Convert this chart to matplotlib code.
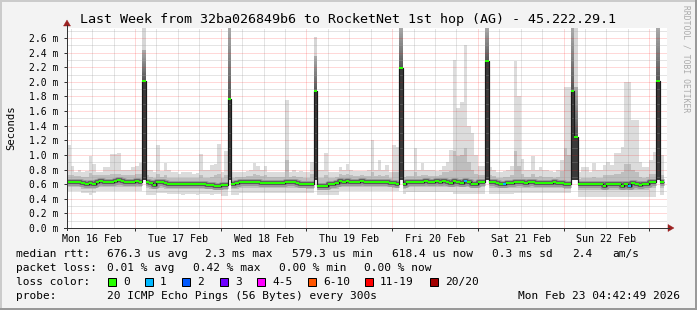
import numpy as np
import matplotlib
matplotlib.use("Agg")
import matplotlib.pyplot as plt
from matplotlib.patches import Rectangle, Polygon
from matplotlib.lines import Line2D
from matplotlib.colors import to_rgb

nan = np.nan

# ---------------------------------------------------------------- data
title = "Last Week from 32ba026849b6 to RocketNet 1st hop (AG) - 45.222.29.1"
y_title = "Seconds"
watermark = "RRDTOOL / TOBI OETIKER"
day_labels = ["Mon 16 Feb", "Tue 17 Feb", "Wed 18 Feb", "Thu 19 Feb",
              "Fri 20 Feb", "Sat 21 Feb", "Sun 22 Feb"]
day_label_hours = [12, 36, 60, 84, 108, 132, 156]      # hours since Mon 16 Feb 00:00
ytick_values = [0.0, 0.2, 0.4, 0.6, 0.8, 1.0, 1.2, 1.4, 1.6, 1.8, 2.0, 2.2, 2.4, 2.6]
ytick_labels = ["0.0 m", "0.2 m", "0.4 m", "0.6 m", "0.8 m", "1.0 m", "1.2 m",
                "1.4 m", "1.6 m", "1.8 m", "2.0 m", "2.2 m", "2.4 m", "2.6 m"]
x_start, x_end = 4.96, 172.96
y_top = 2.737

# hourly bins, start hour since Mon 16 Feb 00:00 (bins 4 .. 171)
bin_start_hours = list(range(4, 172))

median_ms = [
    0.625, 0.625, 0.625, 0.625, 0.625, 0.611, 0.598, 0.611, 0.598, 0.634,
    0.639, 0.634, 0.625, 0.625, 0.643, 0.652, 0.648, 0.634, 0.630, 0.630,
    0.643, 0.625, 2.015, 0.625, 0.611, 0.584, 0.625, 0.625, 0.611, 0.598, 0.598, 0.598,
    0.598, 0.598, 0.598, 0.598, 0.598, 0.605, 0.605, 0.605, 0.590, 0.590, 0.580, 0.580,
    0.584, 0.584, 1.760, 0.605, 0.611, 0.625, 0.625, 0.634, 0.634, 0.634, 0.634, 0.620,
    0.611, 0.611, 0.611, 0.616, 0.616, 0.620, 0.630, 0.630, 0.630, 0.620, 0.607, 0.607,
    0.607, 0.600, 1.870, 0.579, 0.579, 0.579, 0.598, 0.598, 0.611, 0.643, 0.630, 0.648,
    0.634, 0.634, 0.634, 0.648, 0.634, 0.634, 0.634, 0.634, 0.634, 0.625, 0.625, 0.611,
    0.611, 0.607, 2.190, 0.600, 0.630, 0.630, 0.630, 0.630, 0.630, 0.643, 0.630, 0.625,
    0.638, 0.634, 0.648, 0.630, 0.620, 0.643, 0.630, 0.616, 0.648, 0.625, 0.607, 0.607,
    0.630, 0.630, 2.280, 0.630, 0.630, 0.620, 0.607, 0.598, 0.611, 0.611, 0.630, 0.630,
    0.630, 0.616, 0.625, 0.625, 0.620, 0.620, 0.611, 0.611, 0.620, 0.630, 0.611, 0.611,
    0.598, 0.598, 1.880, 1.250, 0.598, 0.598, 0.598, 0.598, 0.598, 0.598, 0.598, 0.575,
    0.598, 0.598, 0.598, 0.598, 0.575, 0.598, 0.575, 0.611, 0.598, 0.589, 0.598, 0.598,
    0.625, 0.625, 2.010, 0.625,
]

smoke_max_ms = [
    1.13, 1.13, 0.85, 0.76, 0.79, 0.76, 0.78, 0.99, 0.87, 0.77,
    0.77, 0.83, 0.83, 1.01, 1.01, 1.02, 0.79, 0.80, 0.80, 0.83,
    0.85, 0.89, nan, 0.80, 0.79, 0.77, 1.13, 0.78, 0.89, 0.80, 0.76, 0.76,
    0.74, 0.76, 0.76, 0.77, 0.74, 0.75, 1.01, 0.80, 0.79, 0.86, 0.88, 1.15,
    0.76, 1.05, nan, 0.76, 0.77, 0.76, 0.77, 0.78, 0.80, 0.89, 0.85, 0.80,
    0.85, 0.77, 0.76, 0.76, 0.77, 0.77, 1.75, 0.76, 0.80, 0.76, 0.78, 0.76,
    0.76, 0.91, nan, 0.80, 0.80, 1.02, 0.76, 0.77, 0.77, 0.84, 0.80, 0.87,
    0.80, 0.78, 0.78, 0.78, 0.78, 0.79, 1.20, 0.79, 0.93, 0.79, 0.86, 0.76,
    1.14, 1.11, nan, 0.80, 0.79, 0.79, 1.10, 0.79, 0.89, 0.80, 0.80, 0.79,
    0.78, 0.80, 0.85, 0.91, 1.07, 2.30, 1.64, 1.73, 2.50, 1.40, 1.30, 1.00,
    0.85, 0.85, nan, 0.84, 0.80, 0.76, 0.77, 0.78, 0.79, 0.85, 2.28, 1.80,
    0.95, 0.79, 0.79, 0.98, 0.80, 0.83, 0.80, 0.80, 0.78, 0.77, 0.79, 0.93,
    1.93, 1.93, nan, nan, 0.76, 0.84, 0.84, 0.77, 0.89, 0.79, 0.79, 0.86,
    0.91, 0.86, 1.03, 1.03, 1.11, 2.00, 2.00, 1.48, 1.48, 0.91, 0.84, 0.84,
    0.93, 1.04, nan, 1.00,
]

smoke_min_ms = [
    0.50, 0.50, 0.50, 0.50, 0.50, 0.48, 0.48, 0.45, 0.48, 0.51,
    0.51, 0.51, 0.51, 0.51, 0.51, 0.51, 0.51, 0.51, 0.51, 0.51,
    0.51, 0.51, nan, 0.45, 0.45, 0.45, 0.48, 0.48, 0.48, 0.46, 0.46, 0.46,
    0.46, 0.45, 0.46, 0.46, 0.46, 0.45, 0.46, 0.46, 0.46, 0.45, 0.46, 0.46,
    0.44, 0.44, nan, 0.45, 0.45, 0.48, 0.48, 0.48, 0.48, 0.48, 0.48, 0.48,
    0.48, 0.48, 0.48, 0.48, 0.48, 0.48, 0.48, 0.48, 0.48, 0.48, 0.48, 0.48,
    0.48, 0.48, nan, 0.45, 0.45, 0.45, 0.45, 0.45, 0.45, 0.50, 0.50, 0.50,
    0.50, 0.50, 0.50, 0.50, 0.50, 0.50, 0.50, 0.50, 0.50, 0.50, 0.50, 0.50,
    0.50, 0.50, nan, 0.47, 0.49, 0.49, 0.49, 0.49, 0.49, 0.49, 0.49, 0.49,
    0.49, 0.49, 0.49, 0.49, 0.49, 0.47, 0.47, 0.47, 0.47, 0.47, 0.47, 0.47,
    0.47, 0.47, nan, 0.46, 0.46, 0.46, 0.46, 0.46, 0.46, 0.46, 0.48, 0.48,
    0.48, 0.48, 0.48, 0.48, 0.48, 0.48, 0.48, 0.48, 0.48, 0.48, 0.48, 0.48,
    0.48, 0.48, nan, nan, 0.43, 0.43, 0.43, 0.43, 0.43, 0.43, 0.43, 0.43,
    0.43, 0.43, 0.43, 0.43, 0.43, 0.43, 0.43, 0.43, 0.43, 0.43, 0.43, 0.43,
    0.43, 0.43, nan, 0.45,
]

band_lo_ms = [
    0.56, 0.56, 0.56, 0.56, 0.56, 0.54, 0.54, 0.54, 0.54, 0.56,
    0.56, 0.56, 0.56, 0.56, 0.56, 0.56, 0.56, 0.56, 0.56, 0.56,
    0.56, 0.56, nan, 0.55, 0.54, 0.53, 0.55, 0.55, 0.54, 0.53, 0.53, 0.53,
    0.53, 0.53, 0.53, 0.53, 0.53, 0.53, 0.53, 0.53, 0.53, 0.53, 0.53, 0.53,
    0.52, 0.52, nan, 0.54, 0.54, 0.55, 0.55, 0.55, 0.55, 0.55, 0.55, 0.55,
    0.55, 0.55, 0.55, 0.55, 0.55, 0.55, 0.55, 0.55, 0.55, 0.55, 0.55, 0.55,
    0.54, 0.54, nan, 0.52, 0.52, 0.52, 0.53, 0.53, 0.54, 0.56, 0.56, 0.56,
    0.56, 0.56, 0.56, 0.56, 0.56, 0.56, 0.56, 0.56, 0.56, 0.56, 0.56, 0.56,
    0.55, 0.55, nan, 0.54, 0.56, 0.56, 0.56, 0.56, 0.56, 0.56, 0.56, 0.56,
    0.56, 0.56, 0.56, 0.56, 0.56, 0.56, 0.56, 0.56, 0.56, 0.56, 0.56, 0.56,
    0.56, 0.56, nan, 0.55, 0.55, 0.55, 0.55, 0.55, 0.55, 0.55, 0.55, 0.55,
    0.55, 0.55, 0.55, 0.55, 0.55, 0.55, 0.55, 0.55, 0.55, 0.55, 0.55, 0.55,
    0.53, 0.53, nan, nan, 0.52, 0.52, 0.52, 0.52, 0.52, 0.52, 0.52, 0.52,
    0.52, 0.52, 0.52, 0.52, 0.52, 0.52, 0.52, 0.52, 0.52, 0.52, 0.52, 0.52,
    0.55, 0.55, nan, 0.55,
]

band_hi_ms = [
    0.72, 0.72, 0.72, 0.71, 0.71, 0.70, 0.70, 0.75, 0.72, 0.72,
    0.72, 0.73, 0.73, 0.74, 0.74, 0.74, 0.72, 0.72, 0.72, 0.73,
    0.74, 0.74, nan, 0.72, 0.70, 0.69, 0.74, 0.70, 0.72, 0.69, 0.68, 0.68,
    0.68, 0.68, 0.68, 0.69, 0.68, 0.68, 0.72, 0.69, 0.68, 0.70, 0.72, 0.74,
    0.68, 0.72, nan, 0.69, 0.70, 0.70, 0.70, 0.71, 0.71, 0.74, 0.73, 0.71,
    0.72, 0.70, 0.70, 0.70, 0.70, 0.70, 0.93, 0.70, 0.71, 0.70, 0.70, 0.69,
    0.69, 0.74, nan, 0.68, 0.68, 0.72, 0.68, 0.69, 0.70, 0.74, 0.72, 0.74,
    0.72, 0.71, 0.71, 0.72, 0.71, 0.71, 0.76, 0.71, 0.73, 0.71, 0.72, 0.69,
    0.76, 0.76, nan, 0.70, 0.71, 0.71, 0.76, 0.71, 0.73, 0.72, 0.71, 0.71,
    0.71, 0.72, 0.76, 0.76, 0.78, 1.05, 0.98, 1.00, 1.10, 0.90, 0.80, 0.74,
    0.72, 0.72, nan, 0.72, 0.71, 0.69, 0.69, 0.70, 0.70, 0.72, 1.05, 0.85,
    0.74, 0.70, 0.70, 0.74, 0.70, 0.71, 0.70, 0.70, 0.70, 0.69, 0.70, 0.78,
    1.10, 1.00, nan, nan, 0.67, 0.69, 0.69, 0.68, 0.70, 0.68, 0.68, 0.72,
    0.73, 0.72, 0.74, 0.74, 0.76, 0.88, 0.88, 0.80, 0.76, 0.70, 0.68, 0.70,
    0.74, 0.74, nan, 0.72,
]

# hours with lost pings (count of 20)
loss_hours = [116, 127, 162]
loss_pings = [1, 1, 1]

# high-latency hours (smoke column drawn separately)
spike_hours = [26, 50, 74, 98, 122, 146, 147, 170]
spike_floor_ms = [0.66, 0.66, 0.66, 0.66, 0.66, 0.66, 0.66, 0.66]
spike_mid_ms = [2.43, 2.74, 2.35, 2.74, 2.74, 2.74, 1.93, 2.74]
spike_top_ms = [2.74, 2.74, 2.61, 2.74, 2.74, 2.74, 2.74, 2.74]

# legend texts
rtt_label = "median rtt:"
rtt_stats = ["676.3 us avg", "2.3 ms max", "579.3 us min", "618.4 us now", "0.3 ms sd", "2.4", "am/s"]
loss_label = "packet loss:"
loss_stats = ["0.01 % avg", "0.42 % max", "0.00 % min", "0.00 % now"]
color_label = "loss color:"
loss_names = ["0", "1", "2", "3", "4-5", "6-10", "11-19", "20/20"]
loss_colors = ["#26ff00", "#00b8ff", "#0059ff", "#6f00ff", "#ff00ff", "#ff5500", "#ff0000", "#a10000"]
loss_upper = [0, 1, 2, 3, 5, 10, 19, 20]
probe_label = "probe:"
probe_text = "20 ICMP Echo Pings (56 Bytes) every 300s"
stamp_text = "Mon Feb 23 04:42:49 2026"

# ---------------------------------------------------------------- figure
W, H, DPI = 697, 310, 100
PX = 72.0 / DPI
plt.rcParams["font.family"] = ["DejaVu Sans Mono", "DejaVu Sans"]
fig = plt.figure(figsize=(W / DPI, H / DPI), dpi=DPI)
fig.patch.set_facecolor("#f3f3f3")

def fx(x):
    return x / W

def fy(y):
    return 1 - y / H

L, R, T, B = 67, 667, 28, 228
ax = fig.add_axes([L / W, 1 - B / H, (R - L) / W, (B - T) / H])
ax.set_facecolor("white")
for s in ax.spines.values():
    s.set_visible(False)

hrs = np.array(bin_start_hours, float)
edges = np.append(hrs, hrs[-1] + 1)
xs = np.column_stack([edges[:-1], edges[1:]]).ravel()

def rep(a):
    return np.repeat(np.asarray(a, float), 2)

# smoke
ax.fill_between(xs, rep(smoke_min_ms), rep(smoke_max_ms), color="#dcdcdc", lw=0, zorder=1)
ax.fill_between(xs, rep(band_lo_ms), rep(band_hi_ms), color="#bebebe", lw=0, zorder=1.2)

med = np.array(median_ms, float)
c0 = np.array(to_rgb("#555555"))
c1 = np.array(to_rgb("#aaaaaa"))
for h, fl, mid, top in zip(spike_hours, spike_floor_ms, spike_mid_ms, spike_top_ms):
    m = med[bin_start_hours.index(h)]
    if top > mid:
        ax.add_patch(Rectangle((h, mid), 1, top - mid, facecolor="#d6d6d6", lw=0, zorder=1.3))
    n = 24
    ys = np.linspace(m, mid, n + 1)
    for k in range(n):
        c = c0 + (c1 - c0) * (k + 0.5) / n
        ax.add_patch(Rectangle((h, ys[k]), 1, mid - ys[k], facecolor=c, lw=0, zorder=1.3))
    ax.add_patch(Rectangle((h, fl), 1, m - fl, facecolor="#3a3a3a", lw=0, zorder=1.4))

# grid (dotted, on top of smoke)
MG = (1, 0, 0, 0.30)
mg = (0.62, 0.62, 0.62, 0.55)
for h in range(6, 173, 6):
    if x_start < h < x_end:
        ax.axvline(h, color=MG if h % 24 == 0 else mg, lw=PX, ls=(0, (1, 1)), zorder=2)
for k in range(1, 28):
    ax.axhline(k / 10.0, color=MG if k % 2 == 0 else mg, lw=PX, ls=(0, (1, 1)), zorder=2)

# median
spike_idx = [bin_start_hours.index(h) for h in spike_hours]
med_core = med.copy()
med_core[spike_idx] = nan
ax.plot(xs, rep(med_core), color="#9a9a9a", lw=7 * PX, solid_capstyle="butt", zorder=3)
ax.plot(xs, rep(med_core), color="#606060", lw=4 * PX, solid_capstyle="butt", zorder=3.1)
ax.plot(xs, rep(med), color="#1a1a1a", lw=1.2 * PX, solid_capstyle="butt", zorder=3.2)

loss = np.zeros(len(hrs))
for h, p in zip(loss_hours, loss_pings):
    loss[bin_start_hours.index(h)] = p

def loss_color(p):
    for up, c in zip(loss_upper, loss_colors):
        if p <= up:
            return c
    return loss_colors[-1]

seg_colors = [loss_color(p) for p in loss]
ax.hlines(med, edges[:-1], edges[1:], colors=seg_colors, lw=2 * PX, capstyle="butt", zorder=4)

ax.set_xlim(x_start, x_end)
ax.set_ylim(0, y_top)

# ticks
ax.set_yticks(ytick_values, ytick_labels)
ax.set_xticks(day_label_hours, day_labels)
ax.set_xticks([h for h in range(24, 169, 24)], minor=True)
ax.xaxis.remove_overlapping_locs = False
ax.tick_params(axis="x", which="major", length=0, pad=4.2, labelsize=7.2, colors="#000000")
ax.tick_params(axis="x", which="minor", length=2.5, width=PX, color="#333333", direction="out")
ax.tick_params(axis="y", which="major", length=2.5, width=PX, color="#333333", direction="out",
               pad=3.5, labelsize=7.0)

# axes lines and arrows
axis_c = "#333333"
arrow_c = "#9b2020"
fig.add_artist(Line2D([fx(67), fx(67)], [fy(230), fy(25)], color=axis_c, lw=PX))
fig.add_artist(Line2D([fx(64), fx(669)], [fy(228), fy(228)], color=axis_c, lw=PX))
fig.add_artist(Polygon([(fx(63.5), fy(26)), (fx(70.5), fy(26)), (fx(67), fy(20))],
                       closed=True, facecolor=arrow_c, edgecolor=arrow_c, lw=0.3))
fig.add_artist(Polygon([(fx(668), fy(224.5)), (fx(668), fy(231.5)), (fx(674), fy(228))],
                       closed=True, facecolor=arrow_c, edgecolor=arrow_c, lw=0.3))

# titles
fig.text(fx(347.5), fy(19), title, ha="center", va="center", fontsize=9.6, color="#000000")
fig.text(fx(11), fy(128), y_title, ha="center", va="center", rotation=90, fontsize=7.6)
fig.text(fx(686), fy(5), watermark, ha="center", va="top", rotation=270, fontsize=5.8,
         color="#aaaaaa")

# legend
LF = 8.0
rows = [254, 268, 282, 296]
fig.text(fx(16), fy(rows[0]), rtt_label, ha="left", va="center", fontsize=LF)
for s, x in zip(rtt_stats, [107, 205, 292, 392, 492, 572, 612]):
    fig.text(fx(x), fy(rows[0]), s, ha="left", va="center", fontsize=LF)
fig.text(fx(16), fy(rows[1]), loss_label, ha="left", va="center", fontsize=LF)
for s, x in zip(loss_stats, [107, 193, 279, 364]):
    fig.text(fx(x), fy(rows[1]), s, ha="left", va="center", fontsize=LF)
fig.text(fx(16), fy(rows[2]), color_label, ha="left", va="center", fontsize=LF)
for name, col, x in zip(loss_names, loss_colors, [108, 145, 182, 220, 257, 308, 365, 430]):
    fig.add_artist(Rectangle((fx(x), fy(rows[2] + 4)), 8 / W, 8 / H, transform=fig.transFigure,
                             facecolor=col, edgecolor="#000000", lw=PX))
    fig.text(fx(x + 15), fy(rows[2]), name, ha="left", va="center", fontsize=LF)
fig.text(fx(16), fy(rows[3]), probe_label, ha="left", va="center", fontsize=LF)
fig.text(fx(107), fy(rows[3]), probe_text, ha="left", va="center", fontsize=LF)
fig.text(fx(680), fy(rows[3]), stamp_text, ha="right", va="center", fontsize=LF)

# outer 3D frame
fig.add_artist(Line2D([0, 1], [fy(0.5), fy(0.5)], color="#cbcbcb", lw=2 * PX))
fig.add_artist(Line2D([fx(0.5), fx(0.5)], [0, 1], color="#cbcbcb", lw=2 * PX))
fig.add_artist(Line2D([0, 1], [fy(309), fy(309)], color="#999999", lw=2 * PX))
fig.add_artist(Line2D([fx(696), fx(696)], [0, 1], color="#999999", lw=2 * PX))

fig.savefig("out.png", dpi=DPI, facecolor=fig.get_facecolor())
